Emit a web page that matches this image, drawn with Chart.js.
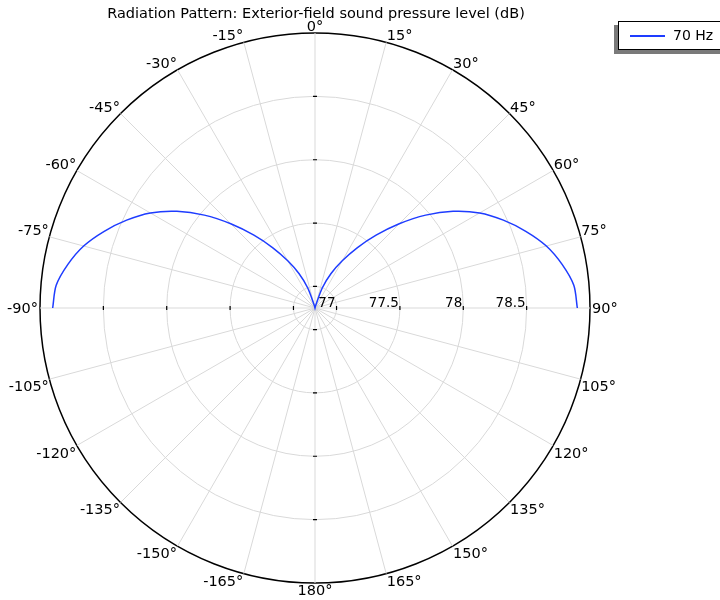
<!DOCTYPE html>
<html>
<head>
<meta charset="utf-8">
<title>Radiation Pattern</title>
<script src="https://cdn.jsdelivr.net/npm/chart.js@4.4.1/dist/chart.umd.min.js"></script>
<style>
    html, body { margin: 0; padding: 0; background: #fff; overflow: hidden; }
    #wrap { position: relative; width: 720px; height: 600px; }
    #legend {
        position: absolute; left: 618px; top: 21px; width: 120px; height: 27px;
        border: 1px solid #000; background: #fff;
        box-shadow: -4px 4px 0 #7a7a7a;
        font: 14px "DejaVu Sans", sans-serif; color: #000;
    }
    #legend .swatch {
        position: absolute; left: 11px; top: 13px; width: 35px; height: 2px;
        background: #1e3cff;
    }
    #legend .label { position: absolute; left: 54px; top: 5px; }
</style>
</head>
<body>
<div id="wrap">
    <canvas id="polar" width="720" height="600"></canvas>
    <div id="legend"><span class="swatch"></span><span class="label">70 Hz</span></div>
</div>
<script>
// angle of each sample, clockwise from the top (degrees)
const angles = [
    0, 5, 10, 15, 20, 25, 30, 35, 40, 45, 50, 55, 60, 65, 70, 75, 80, 85,
    90, 95, 100, 105, 110, 115, 120, 125, 130, 135, 140, 145, 150, 155, 160, 165, 170, 175,
    180, 185, 190, 195, 200, 205, 210, 215, 220, 225, 230, 235, 240, 245, 250, 255, 260, 265,
    270, 275, 280, 285, 290, 295, 300, 305, 310, 315, 320, 325, 330, 335, 340, 345, 350, 355
];

// sound pressure level at 70 Hz (dB), only the front half was computed
const spl70Hz = [
    76.83, 76.83, 76.83, 76.85, 77.00, 77.13, 77.26, 77.41, 77.58, 77.77, 77.97, 78.16, 78.33, 78.47, 78.60, 78.72, 78.81, 78.88,
    78.90, null, null, null, null, null, null, null, null, null, null, null, null, null, null, null, null, null,
    null, null, null, null, null, null, null, null, null, null, null, null, null, null, null, null, null, null,
    78.90, 78.88, 78.81, 78.72, 78.60, 78.47, 78.33, 78.16, 77.97, 77.77, 77.58, 77.41, 77.26, 77.13, 77.00, 76.85, 76.83, 76.83
];

const radialTicks = [77, 77.5, 78, 78.5];
const rMin = 76.83;
const rMax = 79.0;

const titleText = 'Radiation Pattern: Exterior-field sound pressure level (dB)';
const FONT = '"DejaVu Sans", sans-serif';

function angleLabel(a) {
    return (a > 180 ? a - 360 : a) + '°';
}

// title, radial tick labels/marks and angle labels drawn around the scale
const polarDecor = {
    id: 'polarDecor',
    afterDraw(chart) {
        const ctx = chart.ctx;
        const scale = chart.scales.r;
        const cx = scale.xCenter;
        const cy = scale.yCenter;
        const R = scale.drawingArea;

        ctx.save();
        ctx.fillStyle = '#000';

        // title
        ctx.font = '14.5px ' + FONT;
        ctx.textAlign = 'center';
        ctx.textBaseline = 'alphabetic';
        ctx.fillText(titleText, cx + 1, 18);

        // tick marks on the four axes
        ctx.strokeStyle = '#000';
        ctx.lineWidth = 1.2;
        radialTicks.forEach(v => {
            const d = scale.getDistanceFromCenterForValue(v);
            ctx.beginPath();
            ctx.moveTo(cx + d, cy - 2); ctx.lineTo(cx + d, cy + 2);
            ctx.moveTo(cx - d, cy - 2); ctx.lineTo(cx - d, cy + 2);
            ctx.moveTo(cx - 2, cy - d); ctx.lineTo(cx + 2, cy - d);
            ctx.moveTo(cx - 2, cy + d); ctx.lineTo(cx + 2, cy + d);
            ctx.stroke();
        });

        // radial tick labels along the 90° axis
        ctx.font = '13.5px ' + FONT;
        ctx.textAlign = 'right';
        radialTicks.forEach(v => {
            const d = scale.getDistanceFromCenterForValue(v);
            ctx.fillText(String(v), cx + d - 1, cy - 1.5);
        });

        // angle labels every 15°
        ctx.font = '14.5px ' + FONT;
        angles.forEach((a, i) => {
            if (a % 15 !== 0) return;
            const p = scale.getPointPosition(i, R);
            const side = (a === 90 || a === 270) ? 2 : 0.5;
            let x = p.x, y = p.y;
            if (a === 0 || a === 180) {
                ctx.textAlign = 'center';
            } else if (a < 180) {
                ctx.textAlign = 'left';
                x += side;
            } else {
                ctx.textAlign = 'right';
                x -= side;
            }
            if (a === 90 || a === 270) {
                y += 5;
            } else if (a > 90 && a < 270) {
                y += 12;
            } else {
                y -= 2;
            }
            ctx.fillText(angleLabel(a), x, y);
        });
        ctx.restore();
    }
};

new Chart(document.getElementById('polar'), {
    type: 'radar',
    data: {
        labels: angles.map(angleLabel),
        datasets: [{
            label: '70 Hz',
            data: spl70Hz,
            borderColor: '#1e3cff',
            borderWidth: 1.5,
            fill: false,
            pointRadius: 0,
            tension: 0.3,
            spanGaps: false
        }]
    },
    options: {
        responsive: false,
        animation: false,
        layout: { padding: { left: 40, right: 130, top: 33, bottom: 17 } },
        plugins: {
            legend: { display: false },
            title: { display: false },
            tooltip: { enabled: false }
        },
        scales: {
            r: {
                min: rMin,
                max: rMax,
                startAngle: 0,
                afterBuildTicks: (scale) => {
                    scale.ticks = [rMin, ...radialTicks, rMax].map(v => ({ value: v }));
                },
                ticks: { display: false },
                pointLabels: { display: false },
                grid: {
                    circular: true,
                    color: (c) => (c.tick && c.tick.value === rMax) ? '#000' : '#d9d9d9',
                    lineWidth: (c) => (c.tick && c.tick.value === rMax) ? 1.5 : 1
                },
                angleLines: {
                    color: '#d9d9d9',
                    lineWidth: (c) => (angles[c.index] % 15 === 0) ? 1 : 0
                }
            }
        }
    },
    plugins: [polarDecor]
});
</script>
</body>
</html>
